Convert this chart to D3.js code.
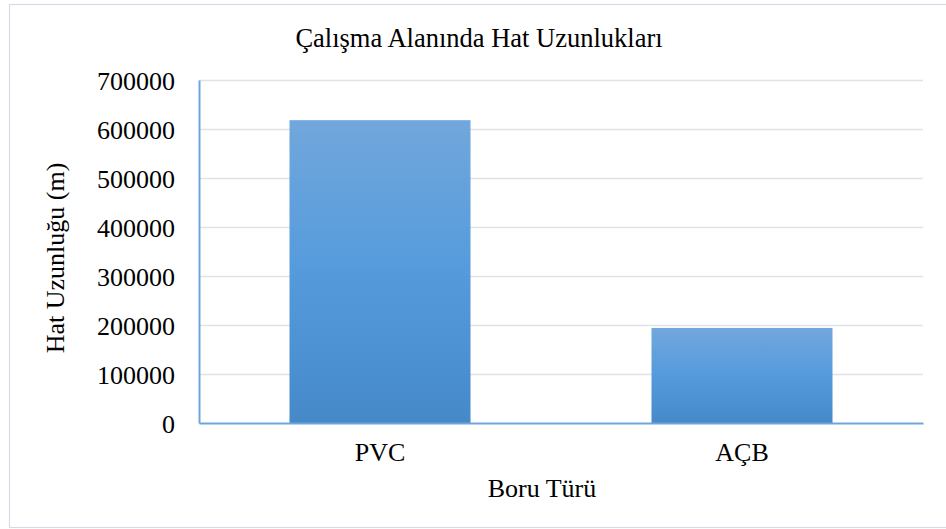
<!DOCTYPE html>
<html>
<head>
<meta charset="utf-8">
<script src="https://cdn.jsdelivr.net/npm/d3@7"></script>
<style>
  html, body { margin: 0; padding: 0; background: #fff; }
  svg text { font-family: "Liberation Serif", "Times New Roman", serif; fill: #000; }
</style>
</head>
<body>
<div id="chart"></div>
<script>
// chart values
const categories = ["PVC", "AÇB"];
const lengths = [618000, 194000];
const yTicks = [0, 100000, 200000, 300000, 400000, 500000, 600000, 700000];

const fullW = 946, fullH = 529;
const margin = { top: 80, right: 23, bottom: 106, left: 199 };
const W = fullW - margin.left - margin.right;
const H = fullH - margin.top - margin.bottom;

const svg = d3.select("#chart")
  .append("svg")
  .attr("width", fullW)
  .attr("height", fullH);

// bar gradient (per bar)
const grad = svg.append("defs").append("linearGradient")
  .attr("id", "barGrad")
  .attr("x1", 0).attr("y1", 0).attr("x2", 0).attr("y2", 1);
grad.append("stop").attr("offset", "0%").attr("stop-color", "#71a7dc");
grad.append("stop").attr("offset", "50%").attr("stop-color", "#559bdc");
grad.append("stop").attr("offset", "100%").attr("stop-color", "#4589c9");

// outer frame
svg.append("rect")
  .attr("x", 9.5).attr("y", 4.5)
  .attr("width", 940).attr("height", 523)
  .attr("fill", "none")
  .attr("stroke", "#d6dce5")
  .attr("stroke-width", 1.2);

const g = svg.append("g").attr("transform", `translate(${margin.left},${margin.top})`);

const x = d3.scaleBand().domain(categories).range([0, W]).paddingInner(0.5).paddingOuter(0.25);
const y = d3.scaleLinear().domain([0, 700000]).range([H, 0]);

// gridlines
g.append("g")
  .attr("class", "grid")
  .call(d3.axisLeft(y).tickValues(yTicks.slice(1)).tickSize(-W).tickFormat(""))
  .call(s => s.select(".domain").remove())
  .call(s => s.selectAll("line").attr("stroke", "#dfe3e8").attr("stroke-width", 1.5));

// bars
g.selectAll(".bar")
  .data(categories.map((c, i) => ({ cat: c, value: lengths[i] })))
  .enter()
  .append("rect")
  .attr("class", "bar")
  .attr("x", d => x(d.cat))
  .attr("y", d => y(d.value))
  .attr("width", x.bandwidth())
  .attr("height", d => H - y(d.value))
  .attr("fill", "url(#barGrad)");

// y axis
const yAxisG = g.append("g")
  .call(d3.axisLeft(y).tickValues(yTicks).tickSize(0).tickPadding(24).tickFormat(d3.format("d")));
yAxisG.select(".domain").attr("stroke", "#6fa5dc").attr("stroke-width", 2);
yAxisG.selectAll("text")
  .style("font-size", "26px")
  .style("font-family", "'Liberation Serif', serif")
  .attr("dy", "0.35em");

// x axis
const xAxisG = g.append("g")
  .attr("transform", `translate(0,${H})`)
  .call(d3.axisBottom(x).tickSize(0).tickPadding(20));
xAxisG.select(".domain").attr("stroke", "#6fa5dc").attr("stroke-width", 2);
xAxisG.selectAll("text")
  .style("font-size", "26px")
  .style("font-family", "'Liberation Serif', serif")
  .attr("dy", "0.71em");

// title
svg.append("text")
  .attr("x", 479)
  .attr("y", 47)
  .attr("text-anchor", "middle")
  .style("font-size", "26.5px")
  .text("Çalışma Alanında Hat Uzunlukları");

// axis titles
svg.append("text")
  .attr("x", 542)
  .attr("y", 497)
  .attr("text-anchor", "middle")
  .style("font-size", "26px")
  .text("Boru Türü");

svg.append("text")
  .attr("transform", "translate(64,258) rotate(-90)")
  .attr("text-anchor", "middle")
  .style("font-size", "26px")
  .text("Hat Uzunluğu (m)");
</script>
</body>
</html>
